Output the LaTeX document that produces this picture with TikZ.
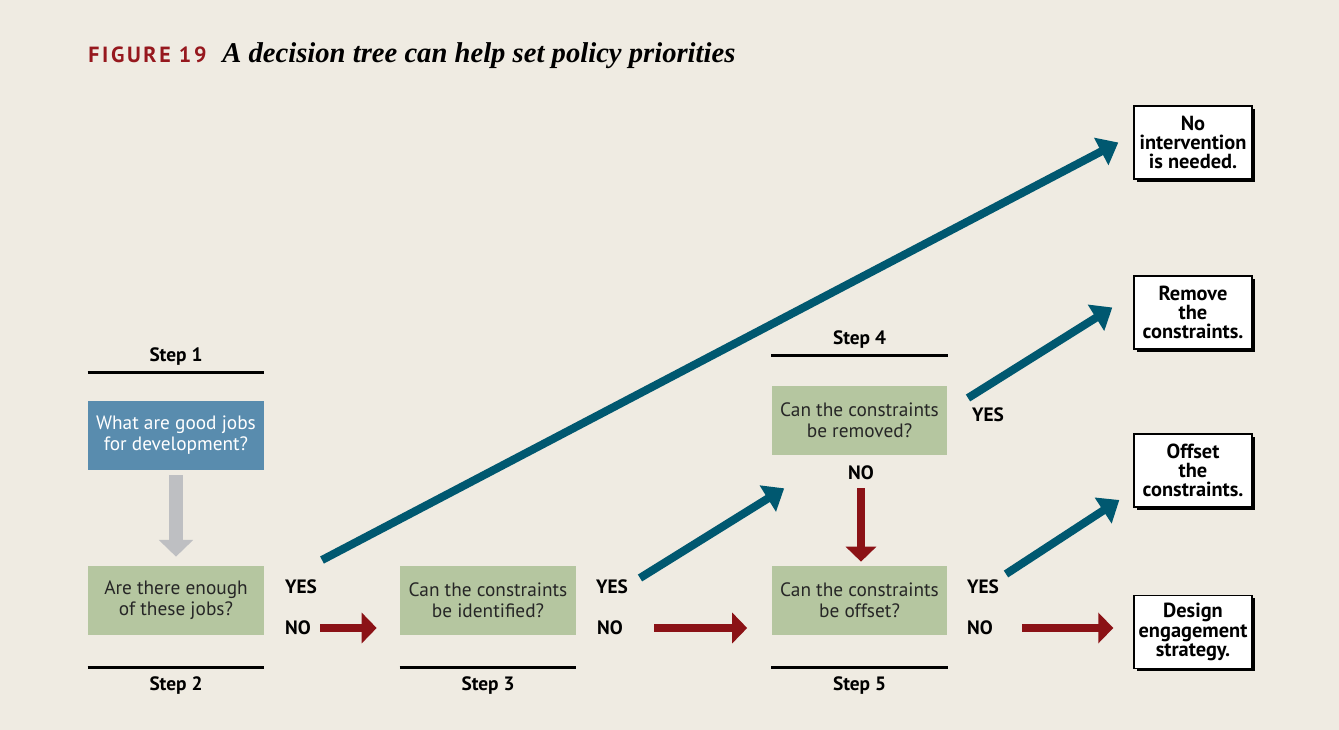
\documentclass[tikz,border=0pt]{standalone}
\usepackage{fontspec}
\setmainfont{PT Sans}
\newfontfamily\titlefont{Liberation Serif}
\usetikzlibrary{arrows.meta,shadows}
\usepackage{xcolor}
\definecolor{paper}{RGB}{239,235,226}
\definecolor{figred}{RGB}{150,24,30}
\definecolor{yesblue}{RGB}{0,88,112}
\definecolor{nored}{RGB}{139,18,22}
\definecolor{qgreen}{RGB}{181,198,160}
\definecolor{qblue}{RGB}{89,140,174}
\definecolor{stepgray}{RGB}{190,191,194}

\begin{document}
\begin{tikzpicture}[
    x=0.02cm, y=-0.02cm,
    question/.style={rectangle, fill=qgreen, text=black!85, inner sep=0pt,
                     minimum width=3.52cm, minimum height=1.38cm, align=center,
                     font=\fontsize{11}{12}\selectfont},
    outcome/.style={rectangle, draw=black, line width=0.8pt, fill=white, inner sep=0pt,
                    minimum width=2.36cm, minimum height=1.46cm, align=center,
                    font=\fontsize{11.6}{10.9}\selectfont\bfseries,
                    drop shadow={shadow xshift=1.6pt, shadow yshift=-1.6pt, opacity=1, fill=black}},
    steplabel/.style={font=\fontsize{11}{13}\selectfont\bfseries, inner sep=0pt},
    answer/.style={font=\fontsize{11}{13}\selectfont\bfseries, inner sep=0pt},
    rule/.style={line width=1.7pt},
    firstarrow/.style={-{Triangle[width=19pt,length=9.5pt]}, line width=8pt, draw=stepgray},
    yesarrow/.style={-{Triangle[width=17pt,length=11pt]}, line width=4.6pt, draw=yesblue},
    noarrow/.style={-{Triangle[width=17pt,length=8.5pt]}, line width=4.8pt, draw=nored}
]

% Background
\fill[paper] (0,0) rectangle (1339,730);

% Title
\node[anchor=base west, inner sep=0pt, text=figred,
      font=\fontsize{12.5}{14}\selectfont\bfseries\addfontfeatures{LetterSpace=12}] (fignum) at (88,62) {FIGURE 19};
\node[anchor=base west, inner sep=0pt, font=\titlefont\fontsize{16.3}{20}\selectfont\bfseries\itshape] (title) at (222,62)
     {A decision tree can help set policy priorities};

% Questions
\node[question, fill=qblue, text=white] (q1) at (176,435.5) {What are good jobs\\for development?};
\node[question] (q2) at (176,600.5) {Are there enough\\of these jobs?};
\node[question] (q3) at (488,600.5) {Can the constraints\\be identified?};
\node[question] (q4) at (859.5,420.5) {Can the constraints\\be removed?};
\node[question] (q5) at (859.5,600.5) {Can the constraints\\be offset?};

% Steps
\node[steplabel] (s1) at (176,357) {Step 1};
\node[steplabel] (s2) at (176,686) {Step 2};
\node[steplabel] (s3) at (488,686) {Step 3};
\node[steplabel] (s4) at (859.5,340) {Step 4};
\node[steplabel] (s5) at (859.5,686) {Step 5};
\draw[rule] ([yshift=0.56cm]q1.north west) -- ([yshift=0.56cm]q1.north east);
\draw[rule] ([yshift=-0.64cm]q2.south west) -- ([yshift=-0.64cm]q2.south east);
\draw[rule] ([yshift=-0.64cm]q3.south west) -- ([yshift=-0.64cm]q3.south east);
\draw[rule] ([yshift=0.6cm]q4.north west) -- ([yshift=0.6cm]q4.north east);
\draw[rule] ([yshift=-0.64cm]q5.south west) -- ([yshift=-0.64cm]q5.south east);

% Outcomes
\node[outcome] (o1) at (1193,142.5) {No\\intervention\\is needed.};
\node[outcome] (o2) at (1193,312.5) {Remove\\the\\constraints.};
\node[outcome] (o3) at (1193,470.5) {Offset\\the\\constraints.};
\node[outcome] (o4) at (1193,632) {Design\\engagement\\strategy.};

% Yes / No
\node[answer] (yes2) at (301,587) {YES};
\node[answer] (no2) at (298,628) {NO};
\node[answer] (yes3) at (612,587) {YES};
\node[answer] (no3) at (610,628) {NO};
\node[answer] (yes4) at (988,415) {YES};
\node[answer] (no4) at (861,473) {NO};
\node[answer] (yes5) at (983,587) {YES};
\node[answer] (no5) at (980,628) {NO};

% Arrows
\draw[firstarrow, shorten <=0.1cm, shorten >=0.18cm] (q1) -- (q2);

\draw[yesarrow] ([shift={(21,-27)}]yes2.center) -- ([shift={(-15,0)}]o1.west);
\draw[yesarrow] ([shift={(28,-9)}]yes3.center) -- ([shift={(13,33)}]q4.south west);
\draw[yesarrow] ([shift={(-20,-17)}]yes4.center) -- ([shift={(-21,-5)}]o2.west);
\draw[yesarrow] ([shift={(23,-13)}]yes5.center) -- ([shift={(-14,29.5)}]o3.west);

\draw[noarrow, shorten <=0.18cm, shorten >=0.46cm] (no2) -- (no2 -| q3.west);
\draw[noarrow, shorten <=0.62cm, shorten >=0.48cm] (no3) -- (no3 -| q5.west);
\draw[noarrow, shorten <=0.58cm, shorten >=0.4cm] (no5) -- (no5 -| o4.west);
\draw[noarrow, shorten <=0.16cm, shorten >=0.08cm] (no4) -- (no4 |- q5.north);

\end{tikzpicture}
\end{document}
